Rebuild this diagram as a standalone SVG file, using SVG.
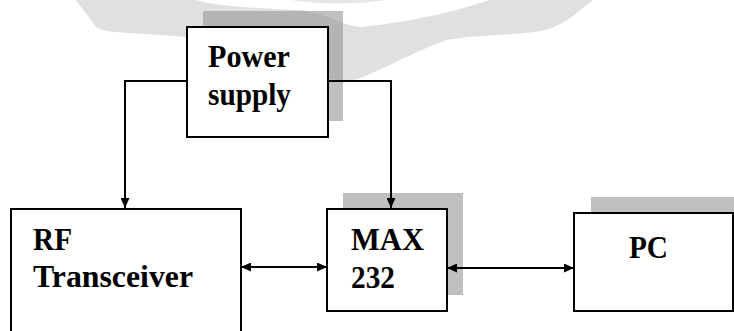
<svg xmlns="http://www.w3.org/2000/svg" width="734" height="331" viewBox="0 0 734 331">
<style>
.box{fill:#fff;stroke:#000;stroke-width:2}
.sh{fill:#c0c0c0}
.lbl{font-family:"Liberation Serif","Times New Roman",serif;font-weight:bold;font-size:32px;fill:#000}
.wire{fill:none;stroke:#000;stroke-width:2}
</style>
<defs>
<marker id="ah" markerUnits="userSpaceOnUse" markerWidth="10" markerHeight="9" refX="10" refY="4.5" orient="auto-start-reverse">
<path d="M0,0 L10,4.5 L0,9 Z" fill="#000"/>
</marker>
<path id="wm" d="M76,0 L96,27 C104,34 150,33 200,38 C260,45 310,75 345,82 C365,80 405,55 447,40 C480,34 520,36 545,30 C565,25 580,10 593,0 Z M196,0 C215,6 250,8 300,10 C330,14 340,25 360,27 C390,24 430,18 467,7 L490,0 Z" fill-rule="evenodd"/>
<clipPath id="psClip"><rect x="203" y="11" width="140" height="110"/></clipPath>
</defs>
<rect width="734" height="331" fill="#fff"/>
<g id="watermark">
<use href="#wm" fill="#e0e0e0"/>
<path d="M290,0 Q338,7 387,0 Z" fill="#e6e6e6"/>
</g>
<g id="shadows">
<rect class="sh" x="203" y="11" width="140" height="110"/>
<use href="#wm" fill="#b4b4b4" clip-path="url(#psClip)"/>
<rect class="sh" x="343" y="193" width="120" height="102"/>
<rect class="sh" x="591" y="197" width="160" height="98"/>
</g>
<g id="connectors">
<polyline class="wire" points="187,81 125,81 125,208" marker-end="url(#ah)"/>
<polyline class="wire" points="328,81 391,81 391,208" marker-end="url(#ah)"/>
<line class="wire" x1="241" y1="267" x2="327" y2="267" marker-start="url(#ah)" marker-end="url(#ah)"/>
<line class="wire" x1="447" y1="268" x2="574" y2="268" marker-start="url(#ah)" marker-end="url(#ah)"/>
</g>
<g id="power">
<rect class="box" x="187" y="27" width="141" height="110"/>
<text class="lbl" x="208" y="67" textLength="82" lengthAdjust="spacingAndGlyphs">Power</text>
<text class="lbl" x="208" y="105" textLength="83" lengthAdjust="spacingAndGlyphs">supply</text>
</g>
<g id="rf">
<rect class="box" x="11" y="209" width="230" height="140"/>
<text class="lbl" x="33" y="250" textLength="39" lengthAdjust="spacingAndGlyphs">RF</text>
<text class="lbl" x="33" y="287" textLength="160" lengthAdjust="spacingAndGlyphs">Transceiver</text>
</g>
<g id="max232">
<rect class="box" x="327" y="209" width="120" height="102"/>
<text class="lbl" x="351" y="250" textLength="73" lengthAdjust="spacingAndGlyphs">MAX</text>
<text class="lbl" x="351" y="288" textLength="44" lengthAdjust="spacingAndGlyphs">232</text>
</g>
<g id="pc">
<rect class="box" x="574" y="213" width="159" height="98"/>
<text class="lbl" x="629" y="258" textLength="39" lengthAdjust="spacingAndGlyphs">PC</text>
</g>
</svg>
